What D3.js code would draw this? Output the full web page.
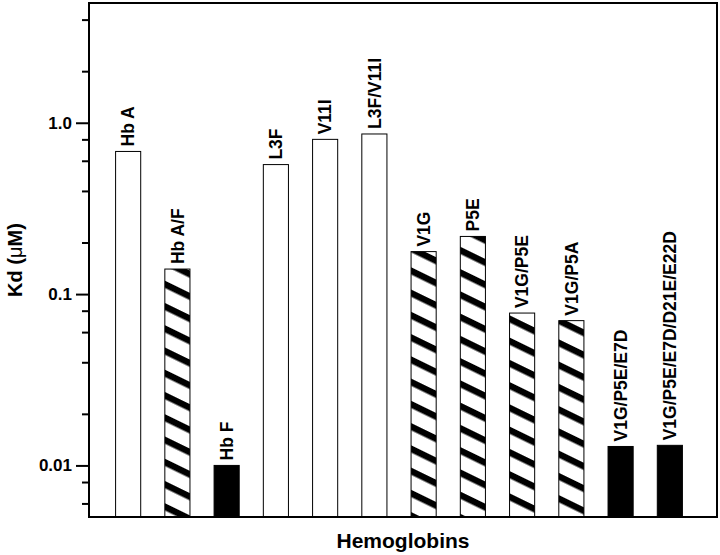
<!DOCTYPE html>
<html>
<head>
<meta charset="utf-8">
<script src="https://cdn.jsdelivr.net/npm/d3@7"></script>
<style>
  html, body { margin: 0; padding: 0; background: #fff; }
  svg { display: block; font-family: "Liberation Sans", Arial, Helvetica, sans-serif; }
</style>
</head>
<body>
<svg id="chart" width="720" height="555"></svg>
<script>
// ---- data ----
const categories = ["Hb A", "Hb A/F", "Hb F", "L3F", "V11I", "L3F/V11I", "V1G", "P5E",
                    "V1G/P5E", "V1G/P5A", "V1G/P5E/E7D", "V1G/P5E/E7D/D21E/E22D"];
const kdValues = [0.68, 0.14, 0.010, 0.57, 0.80, 0.86, 0.177, 0.217, 0.0775, 0.070, 0.0129, 0.0131];
const fillTypes = ["open", "hatch", "solid", "open", "open", "open", "hatch", "hatch",
                   "hatch", "hatch", "solid", "solid"];
const majorTicks = [1, 0.1, 0.01];
const majorTickLabels = ["1.0", "0.1", "0.01"];
const minorTicks = [4, 2, 0.8, 0.6, 0.4, 0.2, 0.08, 0.06, 0.04, 0.02, 0.008, 0.006];
const yTitle = "Kd (";
const xTitle = "Hemoglobins";

(function () {
// ---- layout ----
const mLeft = 89, mRight = 717, mTop = 3, mBottom = 517;
const svg = d3.select("#chart");

const defs = svg.append("defs");
const pat = defs.append("pattern")
  .attr("id", "hatch")
  .attr("patternUnits", "userSpaceOnUse")
  .attr("width", 20).attr("height", 20)
  .attr("patternTransform", "rotate(26)");
pat.append("rect").attr("width", 20).attr("height", 20).attr("fill", "#fff");
pat.append("rect").attr("x", 0).attr("y", 0).attr("width", 20).attr("height", 6.5).attr("fill", "#000");

const x = d3.scaleBand()
  .domain(categories)
  .range([mLeft, 709])
  .paddingInner(0.49)
  .paddingOuter(0.54);

const y = d3.scaleLog()
  .domain([0.005, 5])
  .range([mBottom, mTop]);

const data = categories.map((c, i) => ({ name: c, value: kdValues[i], fill: fillTypes[i] }));

// bars
svg.append("g").selectAll("rect")
  .data(data)
  .join("rect")
  .attr("x", d => x(d.name))
  .attr("y", d => y(d.value))
  .attr("width", x.bandwidth())
  .attr("height", d => mBottom - y(d.value))
  .attr("fill", d => d.fill === "solid" ? "#000" : d.fill === "hatch" ? "url(#hatch)" : "#fff")
  .attr("stroke", "#000")
  .attr("stroke-width", 1);

// bar labels
svg.append("g").selectAll("text")
  .data(data)
  .join("text")
  .attr("transform", d => `translate(${x(d.name) + x.bandwidth() / 2},${y(d.value) - 5}) rotate(-90)`)
  .attr("dy", "0.36em")
  .attr("text-anchor", "start")
  .attr("font-size", 17.5)
  .attr("font-weight", "bold")
  .attr("fill", "#000")
  .text(d => d.name);

// y axis minor ticks
const minorAxis = d3.axisLeft(y).tickValues(minorTicks).tickSize(7).tickFormat("");
const gMinor = svg.append("g").attr("transform", `translate(${mLeft},0)`).call(minorAxis);
gMinor.select(".domain").remove();
gMinor.selectAll(".tick line").attr("stroke", "#000").attr("stroke-width", 2);

// y axis major ticks
const majorAxis = d3.axisLeft(y).tickValues(majorTicks).tickSize(13).tickPadding(4)
  .tickFormat((d, i) => majorTickLabels[i]);
const gMajor = svg.append("g").attr("transform", `translate(${mLeft},0)`).call(majorAxis);
gMajor.select(".domain").remove();
gMajor.selectAll(".tick line").attr("stroke", "#000").attr("stroke-width", 2);
gMajor.selectAll(".tick text")
  .attr("font-family", "'Liberation Sans', Arial, sans-serif")
  .attr("font-size", 17)
  .attr("font-weight", "bold")
  .attr("fill", "#000");

// frame
svg.append("rect")
  .attr("x", mLeft).attr("y", mTop)
  .attr("width", mRight - mLeft).attr("height", mBottom - mTop)
  .attr("fill", "none").attr("stroke", "#000").attr("stroke-width", 2);

// axis titles
const yt = svg.append("text")
  .attr("transform", `translate(22,${(mTop + mBottom) / 2}) rotate(-90)`)
  .attr("text-anchor", "middle")
  .attr("font-size", 20)
  .attr("font-weight", "bold")
  .attr("fill", "#000");
yt.append("tspan").text(yTitle);
yt.append("tspan").attr("font-weight", "normal").text("\u03BC");
yt.append("tspan").text("M)");

svg.append("text")
  .attr("x", (mLeft + mRight) / 2)
  .attr("y", 548)
  .attr("text-anchor", "middle")
  .attr("font-size", 21)
  .attr("font-weight", "bold")
  .attr("fill", "#000")
  .text(xTitle);
})();
</script>
</body>
</html>
